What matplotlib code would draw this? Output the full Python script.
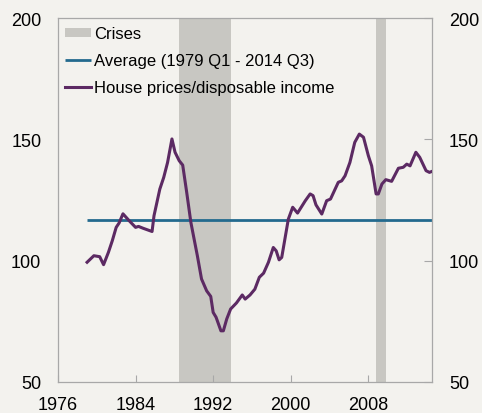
import matplotlib.pyplot as plt

# house prices relative to disposable income (index)
years = [1979.0, 1979.7, 1980.3, 1980.7, 1981.2, 1981.6, 1982.0, 1982.3, 1982.7,
         1983.35, 1984.0, 1984.3, 1984.8, 1985.7, 1985.9, 1986.5, 1986.9, 1987.3,
         1987.75, 1988.07, 1988.5, 1988.86, 1989.27, 1989.7, 1990.0, 1990.37,
         1990.8, 1991.33, 1991.75, 1992.0, 1992.3, 1992.8, 1993.05, 1993.4,
         1993.8, 1994.4, 1995.0, 1995.3, 1995.8, 1996.3, 1996.76, 1997.2, 1997.7,
         1998.2, 1998.5, 1998.8, 1999.07, 1999.75, 2000.2, 2000.7, 2001.5, 2002.0,
         2002.3, 2002.6, 2003.2, 2003.7, 2004.1, 2004.9, 2005.25, 2005.6, 2006.1,
         2006.6, 2007.07, 2007.5, 2008.0, 2008.34, 2008.8, 2009.03, 2009.4,
         2009.8, 2010.4, 2011.1, 2011.6, 2011.96, 2012.3, 2012.9, 2013.3,
         2013.95, 2014.3, 2014.75]
ratio = [99.3, 102.0, 101.6, 98.3, 103.4, 108.2, 113.7, 115.5, 119.3,
         116.4, 113.7, 114.1, 113.3, 112.0, 118.5, 129.5, 134.3, 140.5,
         150.2, 144.7, 141.2, 139.4, 128.2, 115.8, 109.6, 102.0,
         92.4, 87.5, 85.2, 78.6, 76.6, 71.0, 71.0, 75.9,
         80.0, 82.5, 85.8, 84.1, 85.8, 88.2, 93.1, 94.8, 99.3,
         105.4, 104.0, 100.3, 101.3, 117.1, 122.0, 119.6, 124.7, 127.5,
         126.8, 123.0, 119.2, 124.7, 125.4, 132.3, 132.9, 135.0, 140.5,
         148.8, 152.2, 150.9, 143.3, 139.1, 127.5, 127.5, 131.6,
         133.4, 132.7, 138.1, 138.5, 139.8, 139.1, 144.7, 142.6,
         137.1, 136.4, 137.1]

average = 116.7
avg_years = [1979.0, 2014.75]

crises = [(1988.5, 1993.8), (2008.75, 2009.8)]

xticks = [1976, 1984, 1992, 2000, 2008]
yticks = [50, 100, 150, 200]

bg = '#f3f2ee'
plt.rcParams['font.family'] = ['Liberation Sans', 'DejaVu Sans']

fig = plt.figure(figsize=(4.82, 4.14), dpi=100, facecolor=bg)
ax = fig.add_axes([0.1203, 0.0756, 0.7767, 0.8778], facecolor=bg)

# shaded crisis periods
for i, (a, b) in enumerate(crises):
    ax.axvspan(a, b, color='#c8c7c2', lw=0, label='Crises' if i == 0 else None, zorder=1)

ax.plot(avg_years, [average, average], color='#236a8e', lw=2.0,
        label='Average (1979 Q1 - 2014 Q3)', zorder=2, solid_capstyle='butt')
ax.plot(years, ratio, color='#5c2a63', lw=2.2,
        label='House prices/disposable income', zorder=3)

ax.set_xlim(1976, 2014.6)
ax.set_ylim(50, 200)
ax.set_xticks(xticks)
ax.set_yticks(yticks)

for s in ax.spines.values():
    s.set_color('#a8a8a8')
    s.set_linewidth(0.9)

ax.tick_params(axis='x', direction='in', length=5, color='#a8a8a8',
               labelsize=13, pad=10)
ax.tick_params(axis='y', direction='in', length=6, color='#a8a8a8',
               left=False, right=True, labelleft=True, labelright=True,
               labelsize=13, pad=12)

leg = ax.legend(loc='upper left', bbox_to_anchor=(0.018, 0.978), frameon=False,
                fontsize=12, handlelength=1.6, handletextpad=0.16,
                labelspacing=0.72, borderpad=0, borderaxespad=0, handleheight=0.5)

fig.savefig('out.png', dpi=100, facecolor=bg)
